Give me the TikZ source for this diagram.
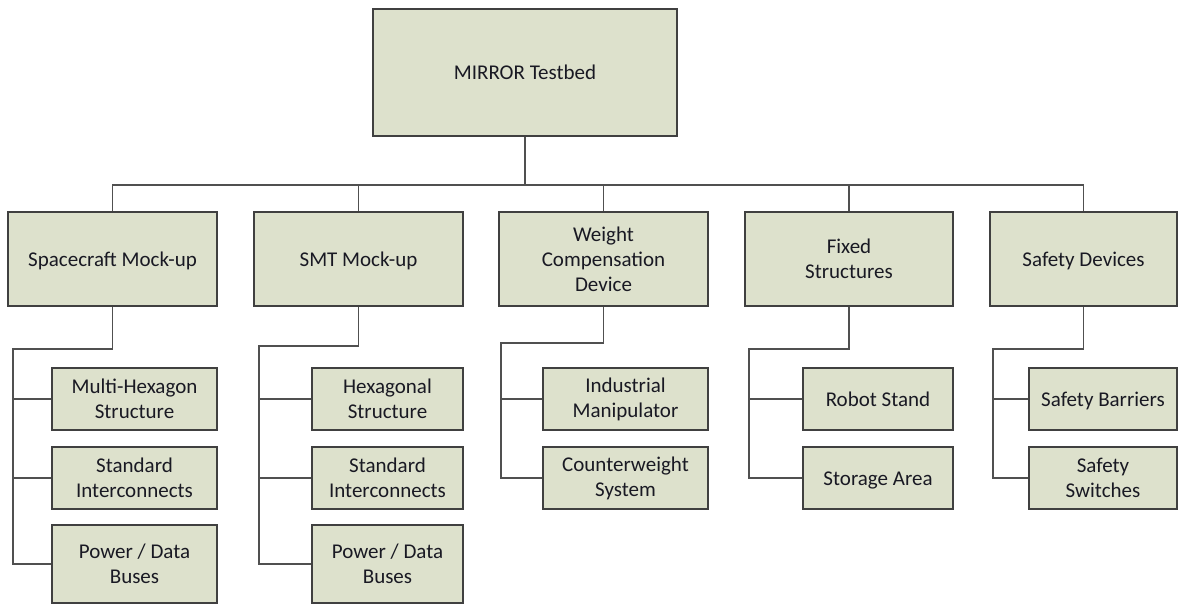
\documentclass[tikz,border=0pt]{standalone}
\usepackage{fontspec}
\setmainfont{Carlito}
\definecolor{boxfill}{RGB}{221,225,204}
\definecolor{boxline}{RGB}{64,64,64}
\definecolor{conline}{RGB}{80,80,80}
\definecolor{txt}{RGB}{25,25,35}
\begin{document}
\begin{tikzpicture}[x=1pt,y=-1pt,
  box/.style={draw=boxline,line width=1.5pt,fill=boxfill,inner sep=0pt,
    align=center,text=txt,font=\fontsize{21}{25}\selectfont},
  one/.style={text height=17pt,text depth=3pt},
  con/.style={draw=conline,line width=1.5pt}]
\useasboundingbox (0,0) rectangle (1178,606);
% top
\node[box,one,minimum width=304,minimum height=127] (top) at (525,72.5) {MIRROR Testbed};
% level 2
\node[box,one,minimum width=209,minimum height=94] (sc) at (112.5,259) {Spacecraft Mock-up};
\node[box,one,minimum width=209,minimum height=94] (smt) at (358.5,259) {SMT Mock-up};
\node[box,minimum width=209,minimum height=94] (wcd) at (603.5,259) {Weight\\Compensation\\Device};
\node[box,minimum width=208,minimum height=94] (fs) at (849,259) {Fixed\\Structures};
\node[box,one,minimum width=187,minimum height=94] (sd) at (1083.5,259) {Safety Devices};
% children
\node[box,minimum width=165,minimum height=62] (sc1) at (134.5,399) {Multi-Hexagon\\Structure};
\node[box,minimum width=165,minimum height=62] (sc2) at (134.5,478) {Standard\\Interconnects};
\node[box,minimum width=165,minimum height=78] (sc3) at (134.5,564) {Power / Data\\Buses};
\node[box,minimum width=151,minimum height=62] (smt1) at (387.5,399) {Hexagonal\\Structure};
\node[box,minimum width=151,minimum height=62] (smt2) at (387.5,478) {Standard\\Interconnects};
\node[box,minimum width=151,minimum height=78] (smt3) at (387.5,564) {Power / Data\\Buses};
\node[box,minimum width=165,minimum height=62] (wcd1) at (625.5,399) {Industrial\\Manipulator};
\node[box,minimum width=165,minimum height=62] (wcd2) at (625.5,478) {Counterweight\\System};
\node[box,one,minimum width=150,minimum height=62] (fs1) at (878,399) {Robot Stand};
\node[box,one,minimum width=150,minimum height=62] (fs2) at (878,478) {Storage Area};
\node[box,one,minimum width=148,minimum height=62] (sd1) at (1103,399) {Safety Barriers};
\node[box,minimum width=148,minimum height=62] (sd2) at (1103,478) {Safety\\Switches};
% bus
\coordinate (bus) at (525,185);
\draw[con] (top.south) -- (bus);
\draw[con] (sc.north) -- (sc.north |- bus) -- (sd.north |- bus) -- (sd.north);
\draw[con] (smt.north) -- (smt.north |- bus);
\draw[con] (wcd.north) -- (wcd.north |- bus);
\draw[con] (fs.north) -- (fs.north |- bus);
% branches
\coordinate (scb) at (13,349);
\coordinate (smtb) at (259,346);
\coordinate (wcdb) at (501,343);
\coordinate (fsb) at (749,349);
\coordinate (sdb) at (993,349);
\draw[con] (sc.south) |- (scb) |- (sc3.west);
\draw[con] (scb |- sc1.west) -- (sc1.west);
\draw[con] (scb |- sc2.west) -- (sc2.west);
\draw[con] (smt.south) |- (smtb) |- (smt3.west);
\draw[con] (smtb |- smt1.west) -- (smt1.west);
\draw[con] (smtb |- smt2.west) -- (smt2.west);
\draw[con] (wcd.south) |- (wcdb) |- (wcd2.west);
\draw[con] (wcdb |- wcd1.west) -- (wcd1.west);
\draw[con] (fs.south) |- (fsb) |- (fs2.west);
\draw[con] (fsb |- fs1.west) -- (fs1.west);
\draw[con] (sd.south) |- (sdb) |- (sd2.west);
\draw[con] (sdb |- sd1.west) -- (sd1.west);
\end{tikzpicture}
\end{document}
